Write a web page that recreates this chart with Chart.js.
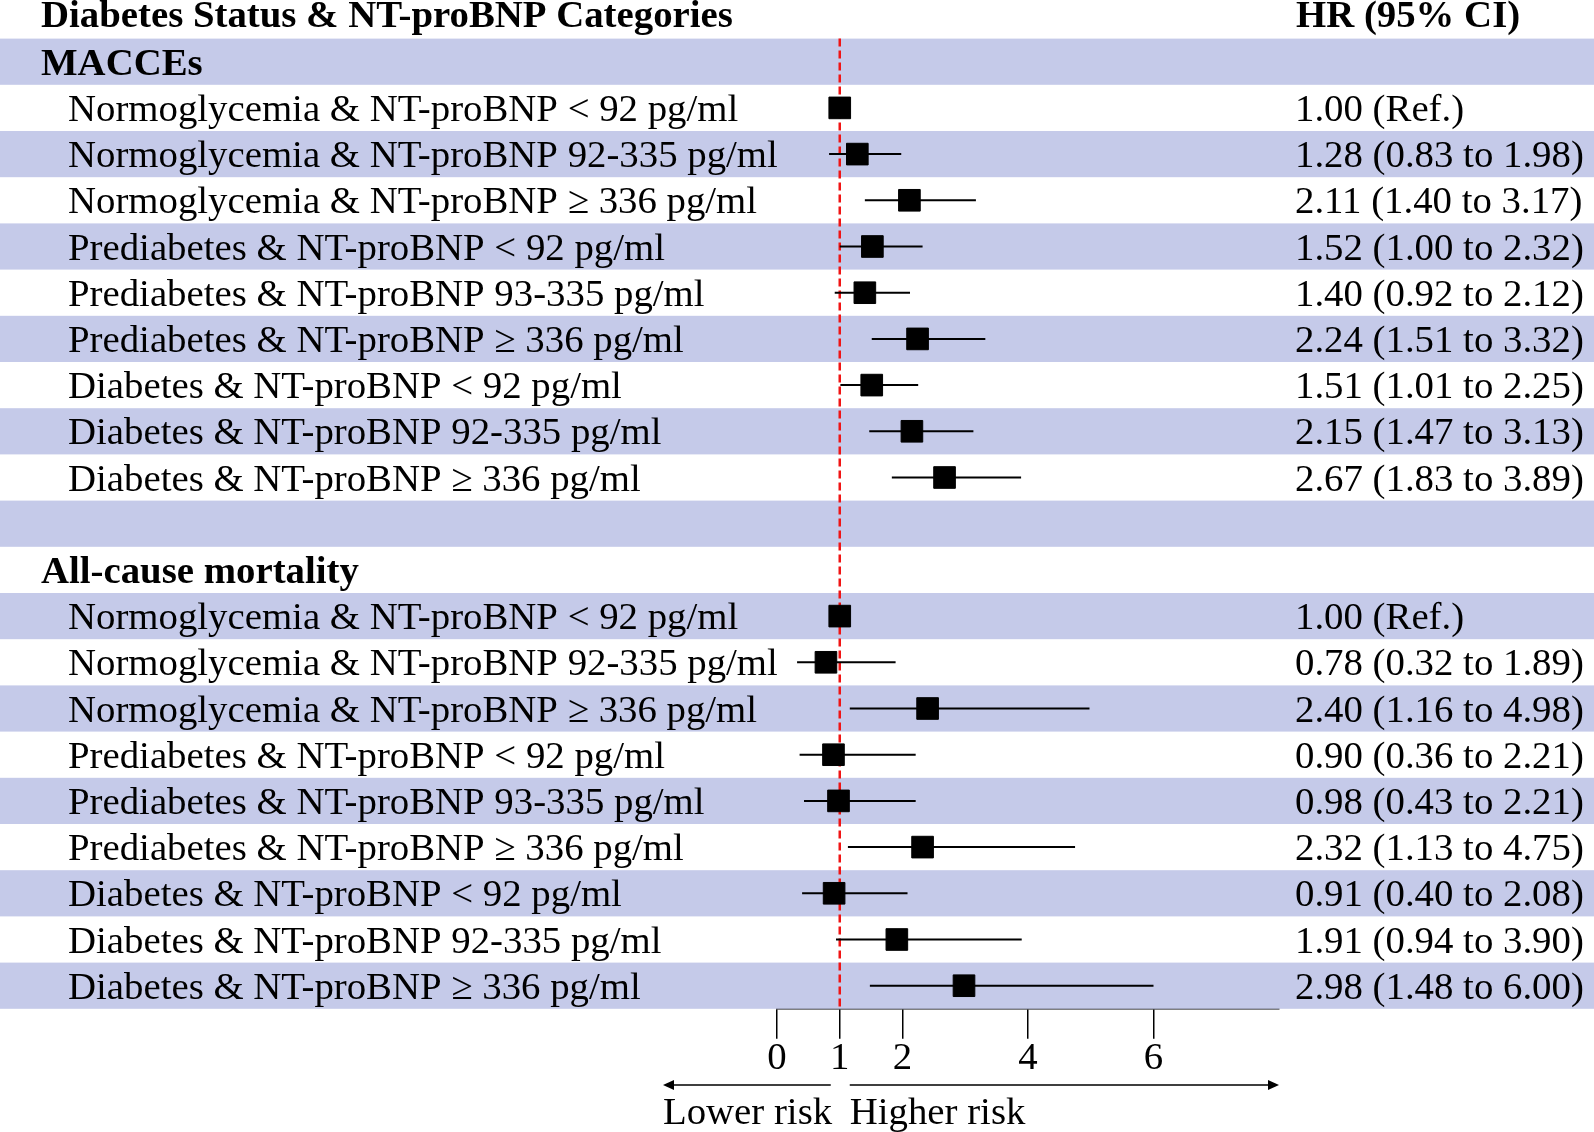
<!DOCTYPE html>
<html>
<head>
<meta charset="utf-8">
<script src="https://cdn.jsdelivr.net/npm/chart.js@4.4.1/dist/chart.umd.min.js"></script>
<style>
  html, body { margin: 0; padding: 0; background: #ffffff; }
  #forest { display: block; }
</style>
</head>
<body>
<canvas id="forest" width="1594" height="1132"></canvas>
<script>
// Data
const categories = [
  'Normoglycemia & NT-proBNP < 92 pg/ml',
  'Normoglycemia & NT-proBNP 92-335 pg/ml',
  'Normoglycemia & NT-proBNP \u2265 336 pg/ml',
  'Prediabetes & NT-proBNP < 92 pg/ml',
  'Prediabetes & NT-proBNP 93-335 pg/ml',
  'Prediabetes & NT-proBNP \u2265 336 pg/ml',
  'Diabetes & NT-proBNP < 92 pg/ml',
  'Diabetes & NT-proBNP 92-335 pg/ml',
  'Diabetes & NT-proBNP \u2265 336 pg/ml'
];
const sections = ['MACCEs', 'All-cause mortality'];

const maccesHR = [1.00, 1.28, 2.11, 1.52, 1.40, 2.24, 1.51, 2.15, 2.67];
const maccesLo = [null, 0.83, 1.40, 1.00, 0.92, 1.51, 1.01, 1.47, 1.83];
const maccesHi = [null, 1.98, 3.17, 2.32, 2.12, 3.32, 2.25, 3.13, 3.89];

const mortHR = [1.00, 0.78, 2.40, 0.90, 0.98, 2.32, 0.91, 1.91, 2.98];
const mortLo = [null, 0.32, 1.16, 0.36, 0.43, 1.13, 0.40, 0.94, 1.48];
const mortHi = [null, 1.89, 4.98, 2.21, 2.21, 4.75, 2.08, 3.90, 6.00];

const xTickValues = [0, 1, 2, 4, 6];
const xMin = 0, xMax = 8;

// Build table rows: section header, 9 rows, blank, section header, 9 rows
const rows = [];
rows.push({ label: sections[0], bold: true });
categories.forEach((c, i) => rows.push({ label: c, hr: maccesHR[i], lo: maccesLo[i], hi: maccesHi[i] }));
rows.push({ label: '' });
rows.push({ label: sections[1], bold: true });
categories.forEach((c, i) => rows.push({ label: c, hr: mortHR[i], lo: mortLo[i], hi: mortHi[i] }));

const pointData = [];
const whiskerData = [];
rows.forEach((r, i) => {
  if (r.hr == null) return;
  pointData.push({ x: r.hr, y: i });
  if (r.lo != null) {
    whiskerData.push({ x: r.lo, y: i }, { x: r.hi, y: i }, { x: null, y: null });
  }
});

function hrText(r) {
  if (r.lo == null) return r.hr.toFixed(2) + ' (Ref.)';
  return r.hr.toFixed(2) + ' (' + r.lo.toFixed(2) + ' to ' + r.hi.toFixed(2) + ')';
}

const FONT = '"Liberation Serif", "Times New Roman", serif';
const FONT_SIZE = 38.8;
const BAND = '#c5cae9';

// Background bands, row labels, header and HR column
const tablePlugin = {
  id: 'table',
  beforeDatasetsDraw(chart) {
    const ctx = chart.ctx;
    const y = chart.scales.y;
    const area = chart.chartArea;
    ctx.save();
    ctx.fillStyle = BAND;
    rows.forEach((r, i) => {
      if (i % 2 !== 0) return;
      const top = y.getPixelForValue(i - 0.5);
      const bottom = y.getPixelForValue(i + 0.5);
      ctx.fillRect(0, top, chart.width, bottom - top);
    });

    // reference line at HR = 1
    const x1 = chart.scales.x.getPixelForValue(1);
    ctx.strokeStyle = '#f01414';
    ctx.lineWidth = 2.5;
    ctx.setLineDash([8, 4]);
    ctx.beginPath();
    ctx.moveTo(x1, area.top);
    ctx.lineTo(x1, area.bottom);
    ctx.stroke();
    ctx.setLineDash([]);

    // texts
    ctx.fillStyle = '#000000';
    ctx.textBaseline = 'middle';
    ctx.textAlign = 'left';
    rows.forEach((r, i) => {
      const cy = y.getPixelForValue(i) + 3;
      if (r.bold) {
        ctx.font = 'bold ' + FONT_SIZE + 'px ' + FONT;
        ctx.fillText(r.label, 41, cy);
      } else if (r.label) {
        ctx.font = FONT_SIZE + 'px ' + FONT;
        ctx.fillText(r.label, 68, cy);
        ctx.fillText(hrText(r), 1295, cy);
      }
    });

    ctx.font = 'bold ' + FONT_SIZE + 'px ' + FONT;
    ctx.textBaseline = 'alphabetic';
    ctx.fillText('Diabetes Status & NT-proBNP Categories', 41, 27);
    ctx.fillText('HR (95% CI)', 1296, 27);
    ctx.restore();
  },
  afterDraw(chart) {
    const ctx = chart.ctx;
    const xs = chart.scales.x;
    const ay = 1085;
    const x1 = xs.getPixelForValue(1);
    const leftEnd = 663;
    const rightEnd = xs.getPixelForValue(xMax);
    ctx.save();
    ctx.strokeStyle = '#000000';
    ctx.fillStyle = '#000000';
    ctx.lineWidth = 1.5;
    ctx.beginPath();
    ctx.moveTo(x1 - 9, ay);
    ctx.lineTo(leftEnd + 8, ay);
    ctx.moveTo(x1 + 10, ay);
    ctx.lineTo(rightEnd - 8, ay);
    ctx.stroke();
    ctx.beginPath();
    ctx.moveTo(leftEnd, ay);
    ctx.lineTo(leftEnd + 11, ay - 5);
    ctx.lineTo(leftEnd + 11, ay + 5);
    ctx.closePath();
    ctx.fill();
    ctx.beginPath();
    ctx.moveTo(rightEnd, ay);
    ctx.lineTo(rightEnd - 11, ay - 5);
    ctx.lineTo(rightEnd - 11, ay + 5);
    ctx.closePath();
    ctx.fill();

    ctx.font = FONT_SIZE + 'px ' + FONT;
    ctx.textBaseline = 'middle';
    ctx.textAlign = 'left';
    ctx.fillText('Lower risk', leftEnd, 1114);
    ctx.fillText('Higher risk', x1 + 10, 1114);
    ctx.restore();
  }
};

const chart = new Chart(document.getElementById('forest'), {
  type: 'scatter',
  data: {
    datasets: [{
      label: 'HR',
      data: pointData,
      pointStyle: 'rect',
      pointRadius: 15.3,
      backgroundColor: '#000000',
      borderColor: '#000000',
      borderWidth: 1,
      order: 1
    }, {
      label: '95% CI',
      type: 'line',
      data: whiskerData,
      borderColor: '#000000',
      borderWidth: 2,
      pointRadius: 0,
      spanGaps: false,
      fill: false,
      order: 2
    }]
  },
  options: {
    responsive: false,
    animation: false,
    layout: { padding: { left: 777, right: 315, top: 38.6, bottom: 0 } },
    plugins: {
      legend: { display: false },
      tooltip: { enabled: false }
    },
    scales: {
      x: {
        type: 'linear',
        min: xMin,
        max: xMax,
        afterBuildTicks: (scale) => { scale.ticks = xTickValues.map(v => ({ value: v })); },
        afterFit: (scale) => { scale.height = 123.2; },
        border: { display: true, color: '#000000', width: 1.5 },
        grid: { drawOnChartArea: false, drawTicks: true, tickLength: 30, color: '#000000', lineWidth: 1.5 },
        ticks: { color: '#000000', padding: -3, font: { family: FONT, size: FONT_SIZE } }
      },
      y: {
        type: 'linear',
        display: false,
        reverse: true,
        min: -0.5,
        max: rows.length - 0.5
      }
    }
  },
  plugins: [tablePlugin]
});
</script>
</body>
</html>
